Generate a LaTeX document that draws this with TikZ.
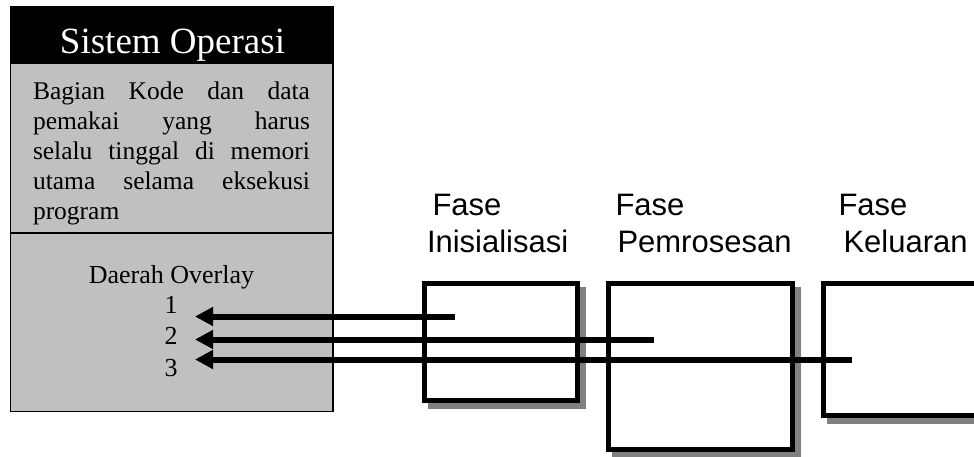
\documentclass[tikz,border=0pt]{standalone}
\usepackage{fontspec}
\setmainfont{Liberation Serif}
\newfontfamily\arialf{Liberation Sans}
\usetikzlibrary{arrows.meta,backgrounds}
\definecolor{boxgray}{RGB}{192,192,192}
\definecolor{shadowgray}{RGB}{128,128,128}
\begin{document}
\begin{tikzpicture}[x=1pt,y=-1pt,
  txt/.style={inner sep=0pt, outer sep=0pt},
  bodytxt/.style={txt, anchor=base west, font=\fontsize{25.5}{29.7}\selectfont},
  ovtxt/.style={txt, anchor=base, font=\fontsize{26}{30}\selectfont},
  fasetxt/.style={txt, anchor=base west, font=\arialf\fontsize{31}{37}\selectfont},
  phasebox/.style={draw=black, line width=5pt, fill=white, rectangle, inner sep=0pt},
  shadowfill/.style={fill=shadowgray},
  arr/.style={line width=6pt, -{Triangle[length=18pt,width=18pt]}}
]
\useasboundingbox (0,0) rectangle (974,456);

% left column (operating system memory)
\node[rectangle, fill=boxgray, inner sep=0pt, outer sep=0pt, anchor=north west,
      minimum width=322.5pt, minimum height=404.5pt] (os) at (10.5,7) {};
\node[rectangle, fill=black, inner sep=0pt, outer sep=0pt, anchor=north west,
      minimum width=322.5pt, minimum height=57pt] (hdr) at (10.5,7) {};
\draw[line width=2pt] (os.west |- 0,232.5) -- (os.east |- 0,232.5);
\draw[line width=1.5pt] (os.north west) rectangle (os.south east);

\node[txt, anchor=base, text=white, font=\fontsize{37}{40}\selectfont] (title) at (172.5,53) {Sistem Operasi};

\node[bodytxt] (l1) at (33,99.5)  {\makebox[277pt][s]{Bagian Kode dan data}};
\node[bodytxt] (l2) at (33,129.4) {\makebox[277pt][s]{pemakai yang harus}};
\node[bodytxt] (l3) at (33,159.2) {\makebox[277pt][s]{selalu tinggal di memori}};
\node[bodytxt] (l4) at (33,189.1) {\makebox[277pt][s]{utama selama eksekusi}};
\node[bodytxt] (l5) at (33,219)   {program};

\node[ovtxt] (ov) at (171.5,283) {Daerah Overlay};
\node[ovtxt] (n1) at (171,313) {1};
\node[ovtxt] (n2) at (171,344.5) {2};
\node[ovtxt] (n3) at (171,376) {3};

% phase labels
\node[fasetxt] (f1a) at (432.5,215) {Fase};
\node[fasetxt] (f1b) at (427,252) {Inisialisasi};
\node[fasetxt] (f2a) at (615.5,215) {Fase};
\node[fasetxt] (f2b) at (617.5,252) {Pemrosesan};
\node[fasetxt] (f3a) at (838.5,215) {Fase};
\node[fasetxt] (f3b) at (843.5,252) {Keluaran};

% phase boxes
\node[phasebox, minimum width=153pt, minimum height=117pt] (b1) at (501,342) {};
\node[phasebox, minimum width=184pt, minimum height=166pt] (b2) at (700.5,366.5) {};
\node[phasebox, minimum width=152.5pt, minimum height=131.5pt] (b3) at (899.75,349.25) {};

\begin{scope}[on background layer]
  \fill[shadowfill] ([shift={(6,6)}]b1.north west) rectangle ([shift={(6,6)}]b1.south east);
  \fill[shadowfill] ([shift={(6,6)}]b2.north west) rectangle ([shift={(6,6)}]b2.south east);
  \fill[shadowfill] ([shift={(6,6)}]b3.north west) rectangle ([shift={(6,6)}]b3.south east);
\end{scope}

% arrows
\coordinate (s1) at (455,316.5);
\coordinate (t1) at (195,316.5);
\coordinate (s2) at (654,339.5);
\coordinate (t2) at (195,339.5);
\coordinate (s3) at (852,359.5);
\coordinate (t3) at (195,359.5);
\draw[arr] (s1) -- (t1);
\draw[arr] (s2) -- (t2);
\draw[arr] (s3) -- (t3);
\end{tikzpicture}
\end{document}
